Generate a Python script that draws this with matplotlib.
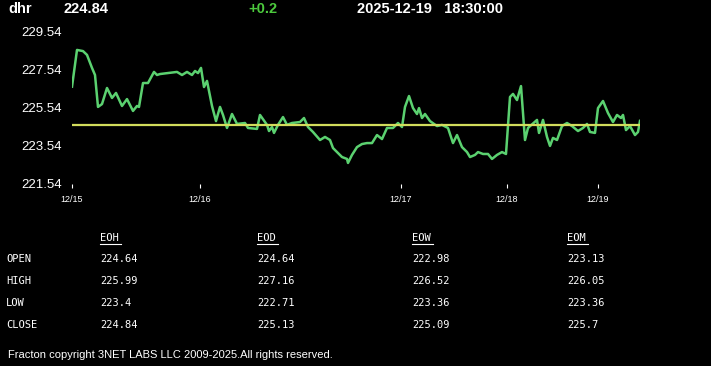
import matplotlib.pyplot as plt

# header
symbol = 'dhr'
last_price = '224.84'
change = '+0.2'
stamp = '2025-12-19   18:30:00'

# intraday trace (bar offset, price)
bars = [0, 5, 11, 15, 20, 23, 26, 30, 35, 40, 44, 50, 55, 61, 65, 67, 71, 76, 82, 85,
        88, 105, 110, 115, 120, 123, 126, 129, 132, 135, 140, 144, 148, 151, 155, 160, 165, 173, 176, 185,
        188, 195, 197, 200, 202, 206, 211, 215, 220, 228, 232, 236, 241, 248, 253, 258, 261, 265, 270, 275,
        276, 280, 285, 290, 295, 300, 305, 310, 315, 321, 326, 330, 333, 337, 341, 345, 347, 350, 353, 358,
        365, 370, 376, 381, 385, 390, 395, 398, 403, 406, 411, 416, 420, 425, 430, 434, 438, 441, 445, 449,
        453, 456, 465, 467, 471, 475, 478, 481, 485, 490, 495, 500, 506, 511, 515, 518, 523, 526, 531, 536,
        541, 545, 549, 551, 554, 558, 563, 566, 568]
price = [226.63, 228.55, 228.49, 228.29, 227.61, 227.24, 225.57, 225.72, 226.56, 226.04, 226.30, 225.62, 225.98, 225.36, 225.62, 225.57, 226.82, 226.82, 227.40, 227.24,
         227.29, 227.40, 227.24, 227.40, 227.24, 227.45, 227.34, 227.61, 226.61, 226.93, 225.62, 224.83, 225.57, 225.15, 224.47, 225.20, 224.68, 224.73, 224.47, 224.42,
         225.15, 224.63, 224.31, 224.52, 224.21, 224.63, 225.04, 224.63, 224.73, 224.78, 224.99, 224.52, 224.26, 223.84, 224.00, 223.84, 223.42, 223.21, 222.95, 222.85,
         222.64, 223.06, 223.47, 223.63, 223.68, 223.68, 224.10, 223.89, 224.47, 224.47, 224.73, 224.52, 225.57, 226.14, 225.51, 225.20, 225.51, 224.99, 225.20, 224.83,
         224.57, 224.63, 224.47, 223.68, 224.10, 223.47, 223.21, 222.95, 223.06, 223.21, 223.11, 223.11, 222.85, 223.06, 223.21, 223.11, 226.09, 226.25, 225.93, 226.66,
         223.84, 224.47, 224.89, 224.21, 224.89, 224.00, 223.53, 223.95, 223.84, 224.57, 224.73, 224.57, 224.31, 224.47, 224.68, 224.26, 224.21, 225.51, 225.88, 225.25,
         224.78, 225.15, 224.99, 225.15, 224.36, 224.57, 224.10, 224.26, 224.84]
ref_level = 224.64

day_bars = [0, 128, 329, 435, 526]
day_labels = ['12/15', '12/16', '12/17', '12/18', '12/19']
y_ticks = [221.54, 223.54, 225.54, 227.54, 229.54]

# summary table
col_names = ['EOH', 'EOD', 'EOW', 'EOM']
row_names = ['OPEN', 'HIGH', 'LOW', 'CLOSE']
table_vals = [['224.64', '224.64', '222.98', '223.13'],
              ['225.99', '227.16', '226.52', '226.05'],
              ['223.4', '222.71', '223.36', '223.36'],
              ['224.84', '225.13', '225.09', '225.7']]

W, H = 711, 366
fig = plt.figure(figsize=(W / 100, H / 100), dpi=100, facecolor='black')

ax = fig.add_axes([72 / W, 1 - 184 / H, 568 / W, 153 / H])
ax.set_facecolor('black')
ax.plot(bars, price, color='#5bd170', lw=1.8)
ax.axhline(ref_level, color='#d2dc5c', lw=1.6)
ax.set_xlim(0, 568)
ax.set_ylim(221.54, 229.54)
for s in ax.spines.values():
    s.set_visible(False)
ax.set_yticks(y_ticks)
ax.set_yticklabels([f'{v:.2f}' for v in y_ticks], fontsize=9.5, color='white', family='Liberation Sans')
ax.tick_params(axis='y', length=0, pad=7.5)
ax.set_xticks(day_bars)
ax.set_xticklabels(day_labels, fontsize=6.5, color='white', family='Liberation Sans')
ax.tick_params(axis='x', length=3, width=0.8, color='white', pad=5, direction='out')

# header
hdr = dict(color='white', fontsize=10.5, fontweight='bold', family='Liberation Sans', va='center')
fig.text(8 / W, 1 - 9 / H, symbol, **hdr)
fig.text(63 / W, 1 - 9 / H, last_price, **hdr)
fig.text(357 / W, 1 - 9 / H, stamp, **hdr)
fig.text(248 / W, 1 - 9 / H, change, **{**hdr, 'color': '#4cc93d'})

# table
col_x = [100, 257, 412, 567]
row_y = [259, 281, 303, 325]
mono = dict(color='white', fontsize=7.5, family='DejaVu Sans Mono', va='center')
for cx, name in zip(col_x, col_names):
    fig.text(cx / W, 1 - 238 / H, name, **mono)
    fig.add_artist(plt.Line2D([cx / W, (cx + 21) / W], [1 - 244 / H, 1 - 244 / H], color='white', lw=0.8))
for ry, rname, vals in zip(row_y, row_names, table_vals):
    fig.text(6 / W, 1 - ry / H, rname, **mono)
    for cx, v in zip(col_x, vals):
        fig.text(cx / W, 1 - ry / H, v, **mono)

fig.text(8 / W, 1 - 355 / H, 'Fracton copyright 3NET LABS LLC 2009-2025.All rights reserved.',
         color='white', fontsize=8, family=['Liberation Sans Narrow', 'Liberation Sans'], va='center')

fig.savefig('out.png', dpi=100, facecolor='black')
